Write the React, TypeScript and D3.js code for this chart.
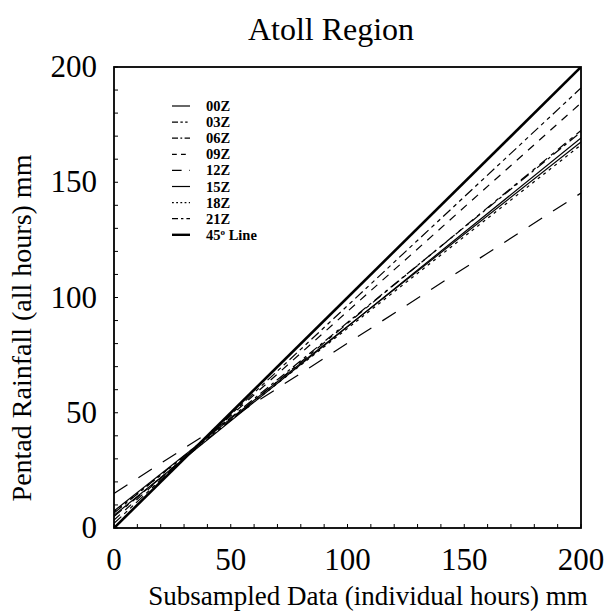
import React from "react";
import * as d3 from "d3";

const seriesNames = ["00Z", "03Z", "06Z", "09Z", "12Z", "15Z", "18Z", "21Z", "45° Line"];
// value at x = 0 and at x = 200
const startValues = [5.5, 2.0, 6.5, 3.5, 15.0, 7.4, 7.0, 5.0, 0];
const endValues = [169.2, 190.9, 171.8, 184.4, 145.3, 167.5, 166.2, 172.5, 200];
const xDomain = [0, 200];
const yDomain = [0, 200];
const majorTicks = [0, 50, 100, 150, 200];
const minorTicks = d3.range(0, 201, 10);

const dashes = ["", "10,4,4,4,4,4", "10,4,3,4", "8,7", "16,13", "", "3,4", "10,5,4,5", ""];
const widths = [1.2, 1.2, 1.2, 1.2, 1.2, 1.2, 1.2, 1.2, 2.6];

export default function App() {
  const W = 606, H = 615;
  const left = 114, right = 581, top = 67, bottom = 528;
  const x = d3.scaleLinear().domain(xDomain).range([left, right]);
  const y = d3.scaleLinear().domain(yDomain).range([bottom, top]);
  const line = d3.line<[number, number]>().x(d => x(d[0])).y(d => y(d[1]));
  const font = "'Liberation Serif', 'Times New Roman', serif";

  const legX = 172, legY = 106, legStep = 16.1;

  return (
    <svg width={W} height={H} style={{ position: "absolute", left: 0, top: 0, background: "#fff" }}
      fontFamily={font}>
      <rect x={0} y={0} width={W} height={H} fill="#fff" />
      <text x={331} y={40} textAnchor="middle" fontSize={32}>Atoll Region</text>

      <defs>
        <clipPath id="plotclip">
          <rect x={left} y={top} width={right - left} height={bottom - top} />
        </clipPath>
      </defs>

      <g clipPath="url(#plotclip)">
        {seriesNames.map((n, i) => (
          <path key={n}
            d={line([[xDomain[0], startValues[i]], [xDomain[1], endValues[i]]]) || ""}
            fill="none" stroke="#000" strokeWidth={widths[i]}
            strokeDasharray={dashes[i] || undefined} />
        ))}
      </g>

      <rect x={left} y={top} width={right - left} height={bottom - top} fill="none" stroke="#000" strokeWidth={1.8} />

      {minorTicks.map(t => (
        <g key={"t" + t}>
          <line x1={x(t)} x2={x(t)} y1={bottom} y2={bottom - 4} stroke="#000" strokeWidth={1} />
          <line x1={left} x2={left + 4} y1={y(t)} y2={y(t)} stroke="#000" strokeWidth={1} />
        </g>
      ))}

      {majorTicks.map(t => (
        <text key={"xl" + t} x={x(t)} y={570} textAnchor="middle" fontSize={31}>{t}</text>
      ))}
      {majorTicks.map(t => (
        <text key={"yl" + t} x={97} y={y(t) + 10} textAnchor="end" fontSize={31}>{t}</text>
      ))}

      <text x={368} y={605} textAnchor="middle" fontSize={27}>Subsampled Data (individual hours) mm</text>
      <text transform={`translate(31, 328) rotate(-90)`} textAnchor="middle" fontSize={28}>
        Pentad Rainfall (all hours) mm
      </text>

      {seriesNames.map((n, i) => (
        <g key={"leg" + n}>
          <line x1={legX} x2={legX + 18} y1={legY + i * legStep} y2={legY + i * legStep}
            stroke="#000" strokeWidth={i === 8 ? 2.4 : 1.2}
            strokeDasharray={dashes[i] ? dashes[i].split(",").map(v => +v * 0.6).join(",") : undefined} />
          <text x={legX + 34} y={legY + i * legStep + 5} fontSize={14.5} fontWeight="bold">
            {i === 8 ? (<>45<tspan dy={-5} fontSize={9}>o</tspan><tspan dy={5}> Line</tspan></>) : n}
          </text>
        </g>
      ))}
    </svg>
  );
}
